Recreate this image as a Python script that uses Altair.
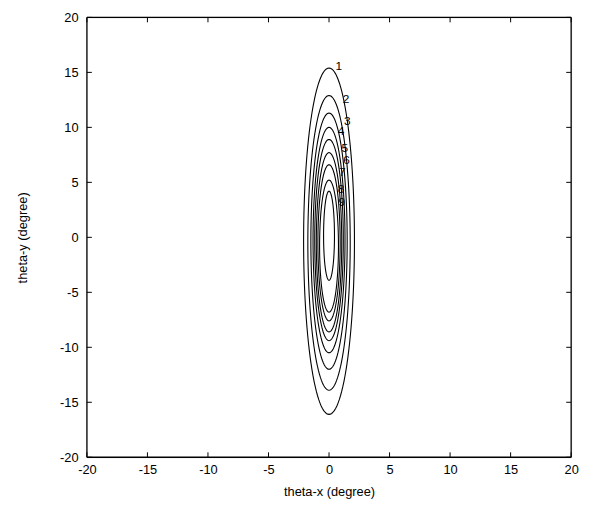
import numpy as np
import pandas as pd
import altair as alt

# contour levels and their read extents (degrees)
levels = [1, 2, 3, 4, 5, 6, 7, 8, 9]
tops = [15.4, 12.9, 11.3, 10.0, 8.9, 7.7, 6.6, 5.2, 4.2]
bottoms = [-16.1, -13.9, -12.0, -10.5, -9.4, -8.6, -7.6, -6.8, -3.9]
half_widths = [2.1, 1.75, 1.5, 1.32, 1.18, 1.05, 0.92, 0.78, 0.45]
x_center = 0.0

# contour labels
label_text = ["1", "2", "3", "4", "5", "6", "7", "8", "9"]
label_x = [0.8, 1.4, 1.5, 1.0, 1.3, 1.45, 1.1, 1.0, 1.05]
label_y = [15.6, 12.6, 10.6, 9.7, 8.1, 7.0, 5.9, 4.4, 3.2]

ticks = [-20, -15, -10, -5, 0, 5, 10, 15, 20]

rows = []
t = np.linspace(0, 2 * np.pi, 121)
for lev, tp, bt, hw in zip(levels, tops, bottoms, half_widths):
    yc = (tp + bt) / 2
    ry = (tp - bt) / 2
    for i, tt in enumerate(t):
        rows.append({"level": lev, "order": i,
                     "x": x_center + hw * np.sin(tt),
                     "y": yc + ry * np.cos(tt)})
df = pd.DataFrame(rows)
lab = pd.DataFrame({"text": label_text, "x": label_x, "y": label_y})
tk = pd.DataFrame({"v": ticks})

W, H = 491, 446
xs = alt.Scale(domain=[-20, 20], nice=False, zero=False)
ys = alt.Scale(domain=[-20, 20], nice=False, zero=False)

common = dict(values=ticks, ticks=False, domain=False, grid=False,
              labelFontSize=13, labelColor="black", labelFlush=False,
              labelFont="Liberation Sans", labelExpr="toString(datum.value)",
              titleFont="Liberation Sans", titleFontSize=13,
              titleFontWeight="normal", titleColor="black")
xaxis = alt.Axis(title="theta-x (degree)", labelPadding=6, titlePadding=10, **common)
yaxis = alt.Axis(title="theta-y (degree)", labelPadding=9, titlePadding=30, **common)

lines = alt.Chart(df).mark_line(color="black", strokeWidth=1.1).encode(
    x=alt.X("x:Q", scale=xs, axis=xaxis),
    y=alt.Y("y:Q", scale=ys, axis=yaxis),
    detail="level:N",
    order="order:Q",
)

labels = alt.Chart(lab).mark_text(font="Liberation Sans", fontSize=12,
                                  color="black", align="center",
                                  baseline="middle").encode(
    x=alt.X("x:Q", scale=xs), y=alt.Y("y:Q", scale=ys), text="text:N")

tick_len = 5
xb = alt.Chart(tk).mark_rule(color="black").encode(
    x=alt.X("v:Q", scale=xs), y=alt.value(H), y2=alt.value(H - tick_len))
xt = alt.Chart(tk).mark_rule(color="black").encode(
    x=alt.X("v:Q", scale=xs), y=alt.value(0), y2=alt.value(tick_len))
yl = alt.Chart(tk).mark_rule(color="black").encode(
    y=alt.Y("v:Q", scale=ys), x=alt.value(0), x2=alt.value(tick_len))
yr = alt.Chart(tk).mark_rule(color="black").encode(
    y=alt.Y("v:Q", scale=ys), x=alt.value(W), x2=alt.value(W - tick_len))

# frame
frame_h = alt.Chart(pd.DataFrame({"v": [-20, 20]})).mark_rule(color="black", strokeWidth=1.3).encode(
    y=alt.Y("v:Q", scale=ys), x=alt.value(0), x2=alt.value(W))
frame_v = alt.Chart(pd.DataFrame({"v": [-20, 20]})).mark_rule(color="black", strokeWidth=1.3).encode(
    x=alt.X("v:Q", scale=xs), y=alt.value(0), y2=alt.value(H))

chart = alt.layer(lines, labels, xb, xt, yl, yr, frame_h, frame_v).properties(
    width=W, height=H,
    autosize=alt.AutoSizeParams(type="none"),
    padding={"left": 80, "top": 6, "right": 11, "bottom": 54},
).configure_view(stroke="black", strokeWidth=1).configure(background="white")

chart.save("out.html", embed_options={"renderer": "svg", "actions": False})
